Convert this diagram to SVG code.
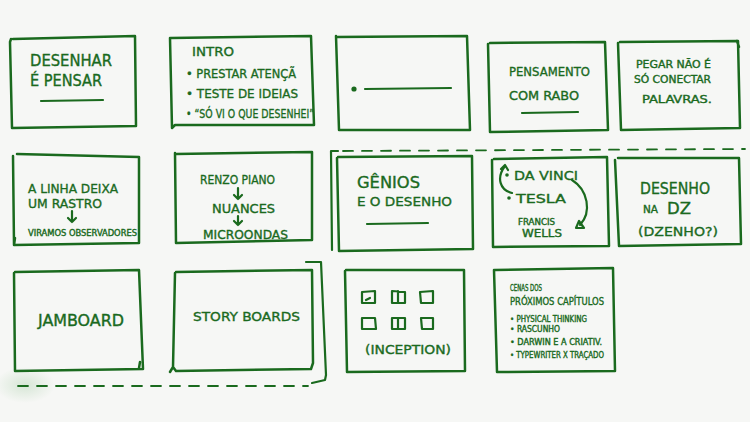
<svg xmlns="http://www.w3.org/2000/svg" width="750" height="422" viewBox="0 0 750 422">
<defs>
<style>
.bx{fill:none;stroke:#1a6a1e;stroke-width:2.5;stroke-linecap:round;stroke-linejoin:round}
.ln{fill:none;stroke:#1a6a1e;stroke-width:2.2;stroke-linecap:round;stroke-linejoin:round}
.ds{fill:none;stroke:#1a6a1e;stroke-width:1.8;stroke-linecap:round;stroke-dasharray:10 9}
.t{fill:#1a6a1e;stroke:#1a6a1e;stroke-width:0.35;font-family:"Liberation Sans Narrow","DejaVu Sans Condensed","Liberation Sans",sans-serif;}
.l{font-size:16px}
.m{font-size:13px}
.s{font-size:10px}
.xs{font-size:8px}
.dot{fill:#1a6a1e}
</style>
<radialGradient id="smudge">
<stop offset="0" stop-color="#9cc79c" stop-opacity="0.35"/>
<stop offset="1" stop-color="#9cc79c" stop-opacity="0"/>
</radialGradient>
</defs>
<rect width="750" height="422" fill="#f6f7f5"/>
<ellipse cx="25" cy="385" rx="30" ry="18" fill="url(#smudge)"/>

<g id="frame-1">
<path class="bx" d="M11,39 L10,42 L12,128 L136,126 L135,36 L13,39"/>
<text class="t l" x="30" y="66" textLength="82" lengthAdjust="spacingAndGlyphs">DESENHAR</text>
<text class="t l" x="30" y="86" textLength="72" lengthAdjust="spacingAndGlyphs">É PENSAR</text>
<path class="ln" d="M41,101 L103,100"/>
</g>

<g id="frame-2">
<path class="bx" d="M170,38 L172,128 L175,125 L314,125 L311,36 L171,38"/>
<text class="t m" x="192" y="56" textLength="42" lengthAdjust="spacingAndGlyphs">INTRO</text>
<text class="t m" x="186" y="78" textLength="110" lengthAdjust="spacingAndGlyphs">• PRESTAR ATENÇÃ</text>
<text class="t m" x="186" y="98" textLength="112" lengthAdjust="spacingAndGlyphs">• TESTE DE IDEIAS</text>
<text class="t m" x="186" y="118" textLength="128" lengthAdjust="spacingAndGlyphs">• “SÓ VI O QUE DESENHEI”</text>
</g>

<g id="frame-3">
<path class="bx" d="M336,36 L339,130 L470,130 L467,36 L336,37"/>
<circle class="dot" cx="354" cy="89" r="2.6"/>
<path class="ln" d="M365,89 L451,88"/>
</g>

<g id="frame-4">
<path class="bx" d="M488,44 L490,132 L608,130 L605,42 L490,43"/>
<text class="t m" x="509" y="76" textLength="81" lengthAdjust="spacingAndGlyphs">PENSAMENTO</text>
<text class="t m" x="509" y="100" textLength="70" lengthAdjust="spacingAndGlyphs">COM RABO</text>
<path class="ln" d="M522,113 L578,112"/>
</g>

<g id="frame-5">
<path class="bx" d="M618,43 L621,130 L740,128 L738,41 L620,42 M737,41 L739,47"/>
<text class="t s" x="636" y="68" textLength="75" lengthAdjust="spacingAndGlyphs">PEGAR NÃO É</text>
<text class="t s" x="634" y="83" textLength="77" lengthAdjust="spacingAndGlyphs">SÓ CONECTAR</text>
<text class="t s" x="642" y="103" textLength="70" lengthAdjust="spacingAndGlyphs">PALAVRAS.</text>
</g>

<g id="frame-6">
<path class="bx" d="M13,156 L14,245 L139,243 L139,157 L17,154 M14,245 L15,238"/>
<text class="t m" x="28" y="193" textLength="90" lengthAdjust="spacingAndGlyphs">A LINHA DEIXA</text>
<text class="t m" x="28" y="208" textLength="74" lengthAdjust="spacingAndGlyphs">UM RASTRO</text>
<path class="ln" d="M72,211 L72,222 M68,218 L72,222 L76,218"/>
<text class="t xs" x="28" y="236" textLength="109" lengthAdjust="spacingAndGlyphs">VIRAMOS OBSERVADORES</text>
</g>

<g id="frame-7">
<path class="bx" d="M175,153 L176,243 L312,240 L312,152 L176,154"/>
<text class="t m" x="200" y="184" textLength="75" lengthAdjust="spacingAndGlyphs">RENZO PIANO</text>
<path class="ln" d="M238,188 L238,199 M234,195 L238,199 L242,195"/>
<text class="t m" x="212" y="213" textLength="63" lengthAdjust="spacingAndGlyphs">NUANCES</text>
<path class="ln" d="M238,216 L238,225 M234,221 L238,225 L242,221"/>
<text class="t m" x="203" y="239" textLength="85" lengthAdjust="spacingAndGlyphs">MICROONDAS</text>
</g>

<g id="frame-8">
<path class="bx" d="M337,158 L339,251 L473,249 L472,156 L338,157"/>
<text class="t l" x="357" y="188" textLength="63" lengthAdjust="spacingAndGlyphs">GÊNIOS</text>
<text class="t m" x="357" y="206" textLength="95" lengthAdjust="spacingAndGlyphs">E O DESENHO</text>
<path class="ln" d="M367,224 L428,223"/>
</g>

<g id="frame-9">
<path class="bx" d="M492,160 L493,247 L609,246 L607,157 L494,159"/>
<circle class="dot" cx="507" cy="175" r="1.8"/>
<text class="t m" x="514" y="180" textLength="64" lengthAdjust="spacingAndGlyphs">DA VINCI</text>
<circle class="dot" cx="509" cy="198" r="1.8"/>
<text class="t m" x="516" y="203" textLength="50" lengthAdjust="spacingAndGlyphs">TESLA</text>
<text class="t xs" x="518" y="225" textLength="37" lengthAdjust="spacingAndGlyphs">FRANCIS</text>
<text class="t s" x="522" y="237" textLength="40" lengthAdjust="spacingAndGlyphs">WELLS</text>
<path class="ln" d="M512,193 C500,190 496,178 505,166 M501,169 L505,165 L508,170"/>
<path class="ln" d="M572,180 C588,190 592,212 580,225"/>
<path class="ln" d="M576,228 L584,228 L579,221 Z"/>
</g>

<g id="frame-10">
<path class="bx" d="M615,160 L619,246 L741,244 L739,158 L618,158"/>
<text class="t l" x="640" y="194" textLength="70" lengthAdjust="spacingAndGlyphs">DESENHO</text>
<text class="t s" x="643" y="213" textLength="15" lengthAdjust="spacingAndGlyphs">NA</text>
<text class="t l" x="667" y="214" textLength="24" lengthAdjust="spacingAndGlyphs">DZ</text>
<text class="t m" x="638" y="236" textLength="80" lengthAdjust="spacingAndGlyphs">(DZENHO?)</text>
</g>

<g id="frame-11">
<path class="bx" d="M14,273 L15,371 L143,369 L139,270 L15,272 M139,368 L140,362"/>
<text class="t l" x="38" y="326" textLength="86" lengthAdjust="spacingAndGlyphs">JAMBOARD</text>
</g>

<g id="frame-12">
<path class="bx" d="M175,273 L173,367 L170,372 M173,367 L176,371 L311,369 L313,363 L312,270 L176,272"/>
<text class="t m" x="193" y="321" textLength="107" lengthAdjust="spacingAndGlyphs">STORY BOARDS</text>
</g>

<g id="frame-13">
<path class="bx" d="M345,271 L347,372 L465,371 L464,270 L346,270"/>
<path class="ln" d="M362,292 L375,291 L375,303 L362,303 Z M366,300 L370,298 M392,291 L405,292 L405,303 L392,303 Z M398,291 L398,303 M420,292 L433,291 L433,303 L421,303 Z M362,318 L375,318 L376,329 L362,329 Z M392,318 L405,318 L405,329 L392,329 Z M398,318 L398,329 M421,318 L433,318 L433,329 L422,329 Z"/>
<text class="t m" x="365" y="354" textLength="86" lengthAdjust="spacingAndGlyphs">(INCEPTION)</text>
</g>

<g id="frame-14">
<path class="bx" d="M494,270 L497,372 L615,371 L613,268 L495,270"/>
<text class="t xs" x="510" y="291" textLength="32" lengthAdjust="spacingAndGlyphs">CENAS DOS</text>
<text class="t s" x="510" y="305" textLength="94" lengthAdjust="spacingAndGlyphs">PRÓXIMOS CAPÍTULOS</text>
<text class="t xs" x="510" y="322" textLength="77" lengthAdjust="spacingAndGlyphs">• PHYSICAL THINKING</text>
<text class="t xs" x="510" y="332" textLength="50" lengthAdjust="spacingAndGlyphs">• RASCUNHO</text>
<text class="t xs" x="510" y="345" textLength="92" lengthAdjust="spacingAndGlyphs">• DARWIN E A CRIATIV.</text>
<text class="t xs" x="510" y="358" textLength="94" lengthAdjust="spacingAndGlyphs">• TYPEWRITER X TRAÇADO</text>
</g>

<g id="connectors">
<path class="ds" d="M343,151 L745,149"/>
<path class="ln" d="M338,151 L331,151 L332,250"/>
<path class="ln" d="M306,262 L321,262 L326,375 L325,380 L312,383"/>
<path class="ds" d="M18,386 L308,386"/>
</g>
</svg>
